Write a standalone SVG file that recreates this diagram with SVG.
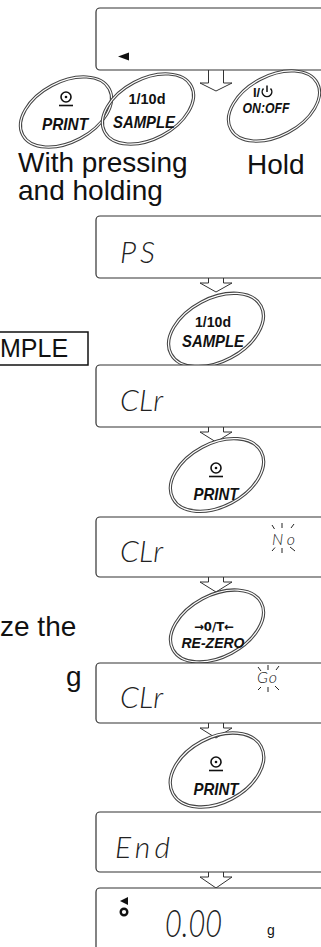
<svg xmlns="http://www.w3.org/2000/svg" xmlns:xlink="http://www.w3.org/1999/xlink" width="321" height="947" viewBox="0 0 321 947">
<style>
.box{fill:#fff;stroke:#333;stroke-width:1.2}
.lbl{font-family:"Liberation Sans",Arial,sans-serif;font-size:28px;fill:#111}
.btn{font-family:"Liberation Sans",Arial,sans-serif;font-weight:bold;font-style:italic;font-size:17px;fill:#111}
.btnu{font-family:"Liberation Sans",Arial,sans-serif;font-weight:bold;font-size:15px;fill:#111}
.arrt{font-family:"DejaVu Sans",sans-serif;font-weight:bold;font-size:12px;fill:#111}
.lcd{font-family:Lato,"DejaVu Sans",sans-serif;font-weight:300;font-style:italic;font-size:30px;fill:#222}
.sm{font-family:Lato,"DejaVu Sans",sans-serif;font-weight:300;font-style:italic;font-size:16px;fill:#222}
.ray{stroke:#222;stroke-width:1}
.arr{fill:#fff;stroke:#333;stroke-width:1}
.eo{fill:none;stroke:#444;stroke-width:3.2}
.ei{fill:none;stroke:#fff;stroke-width:1.2}
</style>
<defs>
<g id="ell"><ellipse rx="49" ry="30" class="eo"/><ellipse rx="49" ry="30" class="ei"/></g>
<g id="prn"><circle r="5" fill="none" stroke="#111" stroke-width="1.6"/><circle r="1.3" fill="#111"/><line x1="-7" y1="8.5" x2="7" y2="8.5" stroke="#111" stroke-width="1.6"/></g>
</defs>

<g id="left-text">
<text class="lbl" x="18" y="172">With pressing</text>
<text class="lbl" x="18" y="200">and holding</text>
<text class="lbl" x="247" y="174">Hold</text>
<rect x="-10" y="332" width="98" height="33" fill="none" stroke="#111" stroke-width="1.5"/>
<text class="lbl" x="0" y="357" style="font-size:25px">MPLE</text>
<text class="lbl" x="0" y="636">ze the</text>
<text class="lbl" x="66" y="686">g</text>
</g>

<g id="connectors">
<path class="arr" d="M208.5,70 V83 H200 L216,91 L232,83 H223.5 V70"/>
<path class="arr" d="M208.5,278 V283 H200 L216,292 L232,283 H223.5 V278"/>
<path class="arr" d="M208.5,427 V432 H200 L216,442 L232,432 H223.5 V427"/>
<path class="arr" d="M208.5,577 V582 H200 L216,592 L232,582 H223.5 V577"/>
<path class="arr" d="M208.5,723 V728 H200 L216,738 L232,728 H223.5 V723"/>
<path class="arr" d="M208.5,872 V877 H200 L216,888 L232,877 H223.5 V872"/>
</g>

<g id="display1">
<rect class="box" x="96" y="8" width="240" height="62" rx="4"/>
<polygon points="118,56.5 129,52.5 129,60.5" fill="#111"/>
</g>

<g id="btn-print1">
<use xlink:href="#ell" transform="translate(66,112) rotate(-28)"/>
<use xlink:href="#prn" transform="translate(66,97)"/>
<text class="btn" x="65" y="130" text-anchor="middle" textLength="46" lengthAdjust="spacingAndGlyphs">PRINT</text>
</g>
<g id="btn-sample1">
<use xlink:href="#ell" transform="translate(148,109) rotate(-28)"/>
<text class="btnu" x="147" y="104" text-anchor="middle" textLength="37" lengthAdjust="spacingAndGlyphs">1/10d</text>
<text class="btn" x="144" y="128" text-anchor="middle" textLength="62" lengthAdjust="spacingAndGlyphs">SAMPLE</text>
</g>
<g id="btn-onoff">
<use xlink:href="#ell" transform="translate(274,106) rotate(-28)"/>
<text class="btnu" x="253" y="97" style="font-size:13px">I/</text>
<path d="M263.5,88.5 A4.8,4.8 0 1 0 270.5,88.5" fill="none" stroke="#111" stroke-width="1.5"/>
<line x1="267" y1="85.5" x2="267" y2="92" stroke="#111" stroke-width="1.5"/>
<text class="btn" x="266" y="113" text-anchor="middle" textLength="47" lengthAdjust="spacingAndGlyphs" style="font-size:15px">ON:OFF</text>
</g>

<g id="display-ps">
<rect class="box" x="96" y="216" width="240" height="62" rx="4"/>
<text class="lcd" x="120" y="263" textLength="35">PS</text>
</g>

<g id="btn-sample2">
<use xlink:href="#ell" transform="translate(216,330) rotate(-28) scale(1.04,1.05)"/>
<text class="btnu" x="213" y="327" text-anchor="middle" textLength="36" lengthAdjust="spacingAndGlyphs">1/10d</text>
<text class="btn" x="213" y="347" text-anchor="middle" textLength="62" lengthAdjust="spacingAndGlyphs">SAMPLE</text>
</g>

<g id="display-clr1">
<rect class="box" x="96" y="365" width="240" height="62" rx="4"/>
<text class="lcd" x="120" y="411" textLength="43">CLr</text>
</g>

<g id="btn-print2">
<use xlink:href="#ell" transform="translate(217,475) rotate(-28) scale(1.02,1.05)"/>
<use xlink:href="#prn" transform="translate(216,468)"/>
<text class="btn" x="216" y="500" text-anchor="middle" textLength="45" lengthAdjust="spacingAndGlyphs">PRINT</text>
</g>

<g id="display-clr-no">
<rect class="box" x="96" y="517" width="240" height="60" rx="4"/>
<text class="lcd" x="120" y="562" textLength="43">CLr</text>
<text class="sm" x="272" y="545" textLength="23">No</text>
<line class="ray" x1="272" y1="525" x2="274.5" y2="529"/>
<line class="ray" x1="282" y1="523" x2="282" y2="528"/>
<line class="ray" x1="294" y1="524" x2="291" y2="528"/>
<line class="ray" x1="272" y1="551" x2="275" y2="547.5"/>
<line class="ray" x1="282" y1="548" x2="282" y2="553"/>
<line class="ray" x1="290" y1="547" x2="295" y2="551"/>
</g>

<g id="btn-rezero">
<use xlink:href="#ell" transform="translate(217,626) rotate(-28) scale(1.02,1.03)"/>
<text class="arrt" x="214" y="631" text-anchor="middle" textLength="40" lengthAdjust="spacingAndGlyphs">→0/T←</text>
<text class="btn" x="213" y="648" text-anchor="middle" textLength="63" lengthAdjust="spacingAndGlyphs" style="font-size:15px">RE-ZERO</text>
</g>

<g id="display-clr-go">
<rect class="box" x="96" y="663" width="240" height="60" rx="4"/>
<text class="lcd" x="120" y="708" textLength="43">CLr</text>
<text class="sm" x="257" y="683" textLength="20">Go</text>
<line class="ray" x1="258" y1="667" x2="261" y2="671"/>
<line class="ray" x1="268" y1="665" x2="268" y2="670"/>
<line class="ray" x1="279" y1="666" x2="276" y2="670"/>
<line class="ray" x1="258" y1="690" x2="261" y2="687"/>
<line class="ray" x1="268" y1="687" x2="268" y2="692"/>
<line class="ray" x1="275" y1="686" x2="279" y2="690"/>
</g>

<g id="btn-print3">
<use xlink:href="#ell" transform="translate(217,770) rotate(-28) scale(1.02,1.08)"/>
<use xlink:href="#prn" transform="translate(216,762)"/>
<text class="btn" x="216" y="795" text-anchor="middle" textLength="45" lengthAdjust="spacingAndGlyphs">PRINT</text>
</g>

<g id="display-end">
<rect class="box" x="96" y="812" width="240" height="60" rx="4"/>
<text class="lcd" x="115" y="858" textLength="55">End</text>
</g>

<g id="display-zero">
<rect class="box" x="96" y="888" width="240" height="70" rx="4"/>
<polygon points="120,901 128,897 128,905" fill="#111"/>
<circle cx="124" cy="912" r="3.3" fill="none" stroke="#111" stroke-width="2.4"/>
<text class="lcd" x="165" y="937" style="font-size:38px" textLength="57" lengthAdjust="spacingAndGlyphs">0.00</text>
<text x="267" y="935" style="font-family:'Liberation Sans',Arial,sans-serif;font-size:14px;fill:#111">g</text>
</g>
</svg>
